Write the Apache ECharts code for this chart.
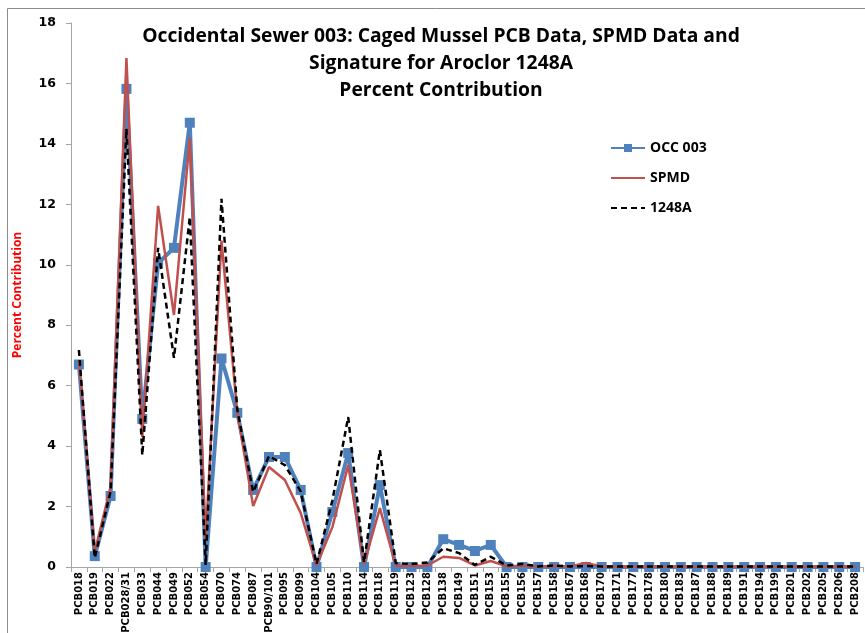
<!DOCTYPE html>
<html>
<head>
<meta charset="utf-8">
<script src="https://cdn.jsdelivr.net/npm/echarts@6/dist/echarts.min.js"></script>
<style>
  html, body { margin: 0; padding: 0; background: #fff; }
  #chart { width: 865px; height: 633px; }
</style>
</head>
<body>
<div id="chart"></div>
<script>
// congeners on the x axis
const congeners = ['PCB018', 'PCB019', 'PCB022', 'PCB028/31', 'PCB033', 'PCB044', 'PCB049', 'PCB052', 'PCB054', 'PCB070',
  'PCB074', 'PCB087', 'PCB90/101', 'PCB095', 'PCB099', 'PCB104', 'PCB105', 'PCB110', 'PCB114', 'PCB118',
  'PCB119', 'PCB123', 'PCB128', 'PCB138', 'PCB149', 'PCB151', 'PCB153', 'PCB155', 'PCB156', 'PCB157',
  'PCB158', 'PCB167', 'PCB168', 'PCB170', 'PCB171', 'PCB177', 'PCB178', 'PCB180', 'PCB183', 'PCB187',
  'PCB188', 'PCB189', 'PCB191', 'PCB194', 'PCB199', 'PCB201', 'PCB202', 'PCB205', 'PCB206', 'PCB208'];

// percent contribution
const occ003 = [6.7, 0.36, 2.35, 15.82, 4.9, 10.05, 10.56, 14.7, 0, 6.9,
  5.1, 2.55, 3.64, 3.64, 2.55, 0, 1.82, 3.77, 0, 2.71,
  0, 0, 0, 0.92, 0.73, 0.53, 0.73, 0, 0, 0,
  0, 0, 0, 0, 0, 0, 0, 0, 0, 0,
  0, 0, 0, 0, 0, 0, 0, 0, 0, 0];

const spmd = [6.85, 0.5, 2.65, 16.84, 4.3, 11.95, 8.34, 14.2, 0.9, 10.8,
  5.1, 2.02, 3.31, 2.88, 1.79, 0.05, 1.32, 3.37, 0.1, 1.95,
  0.05, 0.03, 0.05, 0.34, 0.3, 0.05, 0.2, 0.02, 0.05, 0.02,
  0.03, 0.02, 0.13, 0.02, 0.01, 0.01, 0.01, 0.01, 0.01, 0.01,
  0.01, 0.01, 0.01, 0.01, 0.01, 0.01, 0.01, 0.01, 0.01, 0.01];

const aroclor1248A = [7.18, 0.3, 2.5, 14.5, 3.7, 10.56, 6.92, 11.58, 0.07, 12.18,
  5.2, 2.48, 3.67, 3.37, 2.5, 0.1, 2.2, 4.96, 0.15, 3.87,
  0.13, 0.1, 0.15, 0.62, 0.46, 0.07, 0.34, 0.05, 0.1, 0.02,
  0.05, 0.02, 0.03, 0.02, 0.02, 0.02, 0.02, 0.02, 0.02, 0.02,
  0.02, 0.02, 0.02, 0.02, 0.02, 0.02, 0.02, 0.02, 0.02, 0.02];

const titleLines = [
  'Occidental Sewer 003: Caged Mussel PCB Data, SPMD Data and',
  'Signature for Aroclor 1248A',
  'Percent Contribution'
];

const chart = echarts.init(document.getElementById('chart'));

chart.setOption({
  animation: false,
  backgroundColor: '#fff',
  graphic: [{
    type: 'rect',
    shape: { x: 7.5, y: 8.5, width: 900, height: 700 },
    style: { fill: 'none', stroke: '#8c8c8c', lineWidth: 1 },
    silent: true
  }],
  title: {
    text: titleLines.join('\n'),
    left: 436,
    top: 18,
    textAlign: 'center',
    textStyle: {
      fontFamily: 'Open Sans',
      fontWeight: 'bold',
      fontSize: 19.3,
      lineHeight: 27,
      color: '#000'
    }
  },
  legend: {
    orient: 'vertical',
    left: 605,
    top: 134,
    itemGap: 12,
    itemWidth: 34,
    itemHeight: 10,
    textStyle: { fontFamily: 'Open Sans', fontWeight: 'bold', fontSize: 14, lineHeight: 18, color: '#000' },
    data: [
      { name: 'OCC 003' },
      { name: 'SPMD', itemStyle: { opacity: 0 } },
      { name: '1248A', itemStyle: { opacity: 0 } }
    ]
  },
  grid: { left: 71, right: 2, top: 23, bottom: 66, containLabel: false, outerBoundsMode: 'none' },
  xAxis: {
    type: 'category',
    data: congeners,
    boundaryGap: true,
    axisLine: { lineStyle: { color: '#a6a6a6' } },
    axisTick: { show: true, length: 5, lineStyle: { color: '#a6a6a6' } },
    axisLabel: {
      interval: 0,
      rotate: 90,
      margin: 5,
      fontFamily: 'DejaVu Sans',
      fontWeight: 'bold',
      fontSize: 10,
      color: '#000'
    },
    splitLine: { show: false }
  },
  yAxis: {
    type: 'value',
    min: 0,
    max: 18,
    interval: 2,
    name: 'Percent Contribution',
    nameLocation: 'middle',
    nameGap: 47,
    nameRotate: 90,
    nameTextStyle: { fontFamily: 'Open Sans', fontWeight: 'bold', fontSize: 12, color: '#ff0000' },
    axisLine: { show: true, lineStyle: { color: '#a6a6a6' } },
    axisTick: { show: true, length: 5, lineStyle: { color: '#a6a6a6' } },
    axisLabel: { fontFamily: 'DejaVu Sans', fontWeight: 'bold', fontSize: 12.5, color: '#000', margin: 15 },
    splitLine: { show: false }
  },
  series: [
    {
      name: 'OCC 003',
      type: 'line',
      data: occ003,
      symbol: 'rect',
      symbolSize: 10,
      lineStyle: { color: '#4f81bd', width: 4 },
      itemStyle: { color: '#4f81bd' },
      z: 2
    },
    {
      name: 'SPMD',
      type: 'line',
      data: spmd,
      symbol: 'none',
      lineStyle: { color: '#c0504d', width: 2.5 },
      itemStyle: { color: '#c0504d' },
      z: 3
    },
    {
      name: '1248A',
      type: 'line',
      data: aroclor1248A,
      symbol: 'none',
      lineStyle: { color: '#000', width: 2.5, type: [6, 4] },
      itemStyle: { color: '#000' },
      z: 4
    }
  ]
});
</script>
</body>
</html>
